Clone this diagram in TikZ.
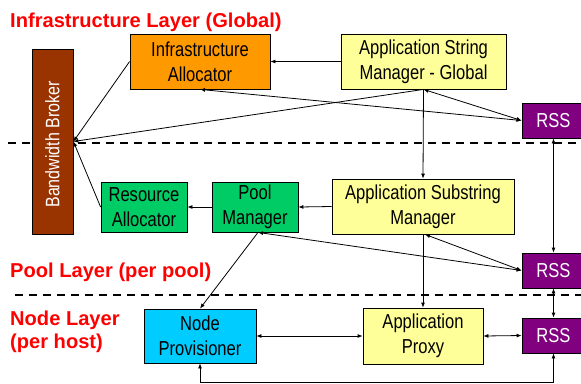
\documentclass[tikz,border=0pt]{standalone}
\usepackage{fontspec}
\setmainfont{Liberation Sans}
\newfontfamily\narrowfont[FakeStretch=0.82]{Liberation Sans}
\usetikzlibrary{arrows.meta}
\definecolor{cOrange}{HTML}{FF9900}
\definecolor{cYellow}{HTML}{FFFF99}
\definecolor{cGreen}{HTML}{00CC66}
\definecolor{cCyan}{HTML}{00CCFF}
\definecolor{cPurple}{HTML}{800080}
\definecolor{cBrown}{HTML}{993300}
\definecolor{cRed}{HTML}{FF0000}
\tikzset{
  box/.style={draw=black, line width=0.8bp, inner sep=0pt, align=center,
    font=\narrowfont\fontsize{20.2bp}{25bp}\selectfont},
  rss/.style={box, fill=cPurple, text=white, minimum width=63bp, minimum height=35bp},
  conn/.style={line width=0.8bp, draw=black},
  tip/.style={-{Latex[length=5bp,width=4bp]}},
  tips/.style={{Latex[length=5bp,width=4bp]}-{Latex[length=5bp,width=4bp]}},
  layer/.style={text=cRed, font=\bfseries\fontsize{20.1bp}{23bp}\selectfont, anchor=base west, inner sep=0pt},
  sep/.style={dash pattern=on 8bp off 6bp, line width=1.8bp}
}
\begin{document}
\begin{tikzpicture}[x=1bp,y=-1bp]
\useasboundingbox (0,0) rectangle (581,383);
% layer titles
\node[layer] (t1) at (10,27) {Infrastructure Layer (Global)};
\node[layer] (t2) at (10,277) {Pool Layer (per pool)};
\node[layer] (t3) at (10,325) {Node Layer};
\node[layer] (t4) at (10,348) {(per host)};
% separators
\draw[sep] (8,143) -- (581,143);
\draw[sep] (15,295) -- (581,295);
% boxes
\node[box, fill=cBrown, minimum width=41bp, minimum height=185bp] (bb) at (52.5,141.5) {};
\node[rotate=90, text=white, inner sep=0pt, font=\narrowfont\fontsize{19.5bp}{24bp}\selectfont] (bbt) at ([yshift=-3bp]bb.center) {Bandwidth Broker};
\node[box, fill=cOrange, minimum width=140bp, minimum height=55bp] (ia) at (200,61.5) {Infrastructure\\Allocator};
\node[box, fill=cYellow, minimum width=165bp, minimum height=55bp] (asmg) at (423.5,61.5) {Application String\\Manager - Global};
\node[rss] (rss1) at (553.5,120.5) {RSS};
\node[box, fill=cGreen, minimum width=86bp, minimum height=50bp] (ra) at (144,207) {Resource\\Allocator};
\node[box, fill=cGreen, minimum width=86bp, minimum height=50bp] (pm) at (255,207) {Pool\\Manager};
\node[box, fill=cYellow, minimum width=182bp, minimum height=55bp] (asub) at (423,206.5) {Application Substring\\Manager};
\node[rss] (rss2) at (553.5,270.5) {RSS};
\node[box, fill=cCyan, minimum width=112bp, minimum height=54bp] (np) at (200,336) {Node\\Provisioner};
\node[box, fill=cYellow, minimum width=120bp, minimum height=56bp] (ap) at (423,336) {Application\\Proxy};
\node[rss] (rss3) at (553.5,335.5) {RSS};
% connectors
\draw[conn,tip] (asmg.west) -- (ia.east);
\draw[conn,tip] (ia.west) -- (bb.east);
\draw[conn,tip] (asmg.south) -- (bb.east);
\draw[conn,tips] (ia.south) -- (rss1.west);
\draw[conn,tips] (asmg.south) -- (rss1.west);
\draw[conn,tip] (asmg.south) -- (asub.north);
\draw[conn,tips] (rss1.south) -- (rss2.north);
\draw[conn,tip] (asub.west) -- (pm.east);
\draw[conn,tip] (pm.west) -- (ra.east);
\draw[conn,tip] (ra.west) -- (bb.east);
\draw[conn,tips] ([xshift=3bp]pm.south) -- (rss2.west);
\draw[conn,tips] ([xshift=2bp]asub.south) -- (rss2.west);
\draw[conn,tip] ([xshift=3bp]pm.south) -- (np.north);
\draw[conn,tip] (asub.south) -- (ap.north);
\draw[conn,tips] (np.east) -- (ap.west);
\draw[conn,tips] (ap.east) -- (rss3.west);
\draw[conn,tips] (rss2.south) -- (rss3.north);
\draw[conn,tips] (rss3.south) -- ++(0,29) -| (np.south);
\end{tikzpicture}
\end{document}
